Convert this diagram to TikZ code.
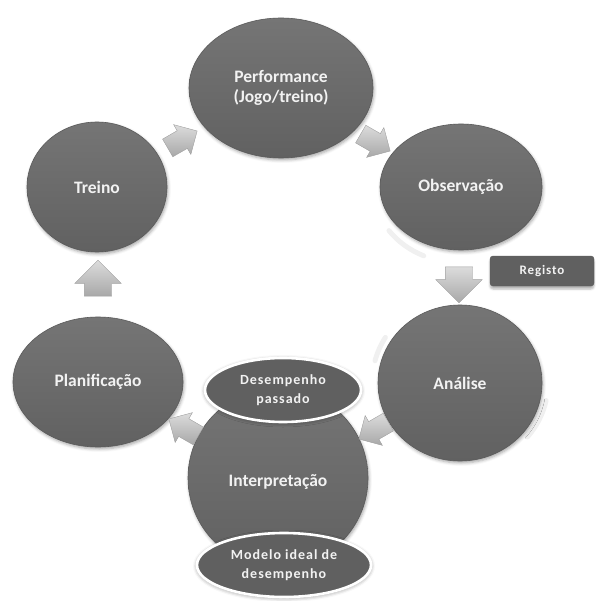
\documentclass[tikz,border=0pt]{standalone}
\usepackage{fontspec}
\setmainfont{Carlito}
\newfontfamily\spacedfont[LetterSpace=7]{Carlito}
\usetikzlibrary{shapes.geometric,shapes.arrows,shadows.blur}
\definecolor{ellTop}{HTML}{757575}
\definecolor{ellBot}{HTML}{616161}
\definecolor{ellLine}{HTML}{5A5A5A}
\definecolor{smFill}{HTML}{606060}
\definecolor{arTop}{HTML}{DCDCDC}
\definecolor{arBot}{HTML}{A8A8A8}
\definecolor{arLine}{HTML}{A0A0A0}
\definecolor{txt}{HTML}{F2F2F2}
\definecolor{faint}{HTML}{F0F0F0}
\begin{document}
\begin{tikzpicture}[x=1pt,y=-1pt,
  bigell/.style 2 args={ellipse, inner sep=0pt, minimum width=#1pt, minimum height=#2pt,
    top color=ellTop, bottom color=ellBot, draw=ellLine, line width=0.6pt,
    blur shadow={shadow xshift=1pt, shadow yshift=-2pt, shadow blur radius=3pt, shadow opacity=35},
    text=txt, align=center, font=\bfseries\fontsize{17.5}{19.5}\selectfont},
  smell/.style 2 args={ellipse, inner sep=0pt, minimum width=#1pt, minimum height=#2pt,
    fill=smFill, draw=white, line width=2.6pt,
    blur shadow={shadow xshift=0pt, shadow yshift=-1pt, shadow blur radius=4pt, shadow opacity=45},
    text=txt, align=center, font=\spacedfont\bfseries\fontsize{14}{19}\selectfont},
  regbox/.style={rectangle, rounded corners=3pt, inner sep=0pt, minimum width=104pt, minimum height=30pt,
    fill=smFill, draw=ellLine, line width=0.4pt,
    blur shadow={shadow xshift=0pt, shadow yshift=-3pt, shadow blur radius=2pt, shadow opacity=30},
    text=txt, font=\spacedfont\bfseries\fontsize{13}{15}\selectfont},
  cyclearrow/.style n args={3}{single arrow, inner xsep=0pt, inner ysep=#3pt/2,
    minimum height=#1pt, single arrow head extend={(#2pt-#3pt)/2}, single arrow tip angle=90,
    top color=arTop, bottom color=arBot, draw=arLine, line width=0.4pt},
  faintarc/.style={draw=faint, line width=5pt, line cap=round}
]
\useasboundingbox (0,0) rectangle (595,601);

% faint reflections
\draw[faintarc] (461,187) ++(115:88 and 76) arc[start angle=115, end angle=145, x radius=88, y radius=76];
\draw[faintarc] (460,383) ++(195:88 and 86) arc[start angle=195, end angle=212, x radius=88, y radius=86];
\draw[faintarc] (460,383) ++(12:88 and 84) arc[start angle=12, end angle=40, x radius=88, y radius=84];

% cycle nodes
\node[bigell={184}{140}] (perf) at (281,88) {Performance\\(Jogo/treino)};
\node[bigell={162}{126}] (obs) at (461,187) {Observação};
\node[bigell={164}{156}] (anal) at (460,383) {Análise};
\node[bigell={180}{180}] (interp) at (278,478) {};
\node[bigell={170}{130}] (plan) at (98,382) {Planificação};
\node[bigell={140}{130}] (treino) at (97,187) {Treino};

\node[text=txt, font=\bfseries\fontsize{17.5}{19.5}\selectfont] (interplbl) at (278,482) {Interpretação};

% satellite ellipses
\node[smell={156}{64}] (desemp) at (283,390) {Desempenho\\passado};
\node[smell={174}{64}] (modelo) at (284,565) {Modelo ideal de\\desempenho};

% Registo box
\node[regbox] (registo) at (542,271) {Registo};

% arrows of the cycle
\node[cyclearrow={34}{34}{20}, rotate=-30] (a1) at (371,140) {};
\node[cyclearrow={36}{46}{27}, rotate=-90] (a2) at (459,278) {};
\node[cyclearrow={34}{34}{20}, rotate=-150] (a3) at (378,428) {};
\node[cyclearrow={34}{34}{20}, rotate=150] (a4) at (188,430) {};
\node[cyclearrow={36}{46}{27}, rotate=90] (a5) at (98,285) {};
\node[cyclearrow={34}{34}{20}, rotate=30] (a6) at (178,142) {};
\end{tikzpicture}
\end{document}
